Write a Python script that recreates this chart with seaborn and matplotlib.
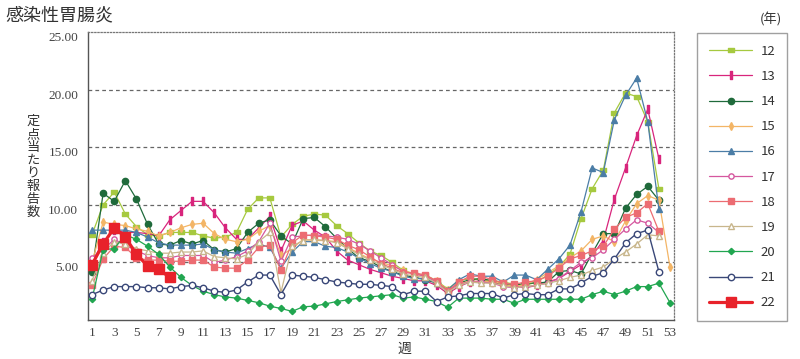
import seaborn as sns
import matplotlib.pyplot as plt
from matplotlib.path import Path

# weeks and yearly series (reports per sentinel site)
weeks = list(range(1, 54))
s12 = [7.4, 10.0, 11.1, 9.2, 8.1, 7.4, 7.3, 7.6, 7.6, 7.6, 7.3, 7.1, 7.2, 7.6, 9.6, 10.6, 10.6, 7.2, 8.3, 9.0,
       9.2, 9.1, 8.2, 7.5, 6.7, 6.0, 5.6, 5.0, 4.3, 4.0, 3.9, 3.4, 2.7, 3.4, 3.6, 3.5, 3.4, 3.3, 3.1, 3.0,
       3.3, 3.9, 4.6, 5.7, 8.8, 11.4, 13.0, 18.0, 19.7, 19.4, 17.2, 11.4]
s13 = [5.0, 6.8, 7.8, 7.6, 7.6, 7.5, 7.3, 8.7, 9.5, 10.3, 10.3, 9.3, 8.0, 7.0, 7.0, 8.0, 9.0, 6.0, 8.2, 8.6,
       7.8, 7.2, 6.0, 5.2, 4.8, 4.4, 4.1, 3.8, 3.6, 3.4, 3.4, 3.0, 2.3, 2.9, 3.3, 3.4, 3.3, 3.0, 2.9, 2.8,
       3.0, 3.3, 3.6, 4.2, 4.8, 5.6, 6.9, 10.5, 13.2, 16.0, 18.3, 14.0]
s14 = [4.2, 11.0, 10.3, 12.1, 10.5, 8.3, 6.6, 6.5, 6.9, 6.6, 6.9, 6.1, 5.9, 6.2, 7.6, 8.4, 8.7, 7.3, 6.6, 8.8,
       8.9, 8.1, 7.1, 6.2, 5.4, 5.1, 4.6, 4.2, 3.9, 3.7, 3.5, 3.2, 2.5, 3.2, 3.5, 3.6, 3.4, 3.1, 3.0, 3.2,
       3.2, 3.3, 4.2, 4.3, 4.0, 5.8, 7.5, 7.5, 9.7, 10.9, 11.6, 10.4]
s15 = [5.0, 8.5, 8.3, 8.2, 7.9, 7.7, 7.3, 7.6, 8.0, 8.3, 8.4, 7.5, 7.0, 6.8, 7.0, 7.7, 8.2, 5.6, 6.2, 7.0,
       6.9, 6.9, 6.8, 6.3, 5.8, 5.3, 5.0, 4.7, 4.3, 4.0, 3.8, 3.4, 2.6, 3.1, 3.4, 3.3, 3.4, 3.1, 2.9, 3.1,
       3.5, 4.1, 4.7, 5.4, 6.0, 7.0, 7.3, 6.8, 8.6, 10.1, 10.8, 10.4, 4.6]
s16 = [7.8, 7.8, 7.8, 7.8, 7.6, 7.2, 6.7, 6.5, 6.5, 6.5, 6.6, 6.1, 5.9, 5.8, 6.2, 6.6, 6.3, 4.5, 5.9, 6.8,
       6.8, 6.4, 6.3, 5.9, 5.4, 4.9, 4.5, 4.2, 3.8, 3.6, 3.6, 3.2, 2.6, 3.5, 4.0, 3.8, 3.8, 3.3, 3.9, 3.9,
       3.5, 4.4, 5.3, 6.5, 9.4, 13.2, 12.8, 17.4, 19.5, 21.0, 17.2, 9.6]
s17 = [5.4, 6.1, 7.0, 6.5, 6.0, 5.6, 5.4, 5.4, 5.6, 5.6, 5.6, 5.0, 5.2, 5.5, 6.0, 6.8, 8.4, 5.1, 7.2, 7.3,
       7.4, 7.3, 7.2, 7.0, 6.6, 6.0, 5.4, 4.8, 4.2, 4.0, 3.8, 3.3, 2.5, 3.1, 3.3, 3.3, 3.2, 2.9, 2.8, 2.9,
       3.0, 3.2, 3.6, 4.3, 5.0, 5.4, 6.1, 7.0, 7.9, 8.7, 8.4, 7.6]
s18 = [3.0, 5.3, 6.4, 6.3, 5.4, 5.2, 5.2, 5.1, 5.1, 5.2, 5.2, 4.6, 4.5, 4.5, 5.2, 6.3, 6.5, 4.3, 6.7, 7.4,
       7.3, 7.2, 7.0, 6.5, 6.1, 5.5, 4.9, 4.5, 4.1, 4.1, 3.9, 3.4, 2.5, 3.3, 3.8, 3.8, 3.5, 3.2, 3.1, 3.3,
       3.4, 3.8, 4.5, 5.3, 5.6, 6.0, 6.4, 7.9, 8.9, 9.3, 10.1, 7.7]
s19 = [3.4, 5.8, 6.8, 6.6, 6.2, 6.0, 5.8, 5.8, 5.9, 5.9, 6.0, 5.5, 5.4, 5.3, 5.7, 6.8, 7.6, 2.4, 6.4, 6.9,
       7.0, 6.9, 6.7, 6.2, 5.7, 5.2, 4.8, 4.4, 4.0, 3.8, 3.7, 3.2, 2.4, 3.0, 3.3, 3.2, 3.2, 3.0, 2.8, 2.9,
       3.0, 3.2, 3.4, 3.7, 3.9, 4.3, 4.6, 5.3, 5.9, 6.6, 7.4, 7.3]
s20 = [1.8, 6.1, 6.2, 7.4, 7.0, 6.4, 5.7, 4.6, 3.7, 3.0, 2.5, 2.2, 2.0, 1.9, 1.7, 1.5, 1.2, 1.0, 0.75, 1.15,
       1.2, 1.4, 1.6, 1.75, 1.9, 2.0, 2.1, 2.2, 1.9, 2.0, 1.8, 1.6, 1.1, 1.9, 1.9, 1.9, 1.8, 1.8, 1.45, 1.8,
       1.8, 1.8, 1.8, 1.8, 1.8, 2.2, 2.5, 2.2, 2.5, 2.9, 2.9, 3.2, 1.5]
s21 = [2.2, 2.6, 2.9, 2.9, 2.9, 2.8, 2.8, 2.7, 2.9, 3.0, 2.8, 2.5, 2.4, 2.6, 3.3, 3.9, 3.9, 2.2, 3.9, 3.8,
       3.7, 3.5, 3.3, 3.2, 3.1, 3.1, 3.0, 2.9, 2.2, 2.5, 2.5, 1.6, 2.0, 2.1, 2.3, 2.3, 2.3, 1.9, 2.2, 2.3,
       2.2, 2.2, 2.7, 2.7, 3.2, 3.8, 4.1, 5.3, 6.7, 7.5, 7.8, 4.2]
s22 = [4.8, 6.6, 8.0, 7.2, 5.7, 4.7, 4.4, 3.7]

years = ['12', '13', '14', '15', '16', '17', '18', '19', '20', '21', '22']
colors = ['#a6c93f', '#d8257c', '#1f6a3b', '#f3b566', '#4b7da6', '#d5579f',
          '#ec6c72', '#c8b68c', '#21a650', '#3a4878', '#e8222a']

# custom bar-like markers
hbar = Path([(-1, -0.45), (1, -0.45), (1, 0.45), (-1, 0.45), (-1, -0.45)],
            [Path.MOVETO, Path.LINETO, Path.LINETO, Path.LINETO, Path.CLOSEPOLY])
vbar = Path([(-0.35, -1), (0.35, -1), (0.35, 1), (-0.35, 1), (-0.35, -1)],
            [Path.MOVETO, Path.LINETO, Path.LINETO, Path.LINETO, Path.CLOSEPOLY])

series = [s12, s13, s14, s15, s16, s17, s18, s19, s20, s21, s22]
markers = [hbar, vbar, 'o', 'd', '^', 'o', 's', '^', 'D', 'o', 's']
msizes = [5, 5.5, 4.5, 4.2, 4.6, 3.8, 4.0, 4.2, 3.2, 4.6, 6.5]
open_mk = [False, False, False, False, False, True, False, True, False, True, False]
lwidths = [0.9, 0.9, 0.9, 0.9, 0.9, 0.9, 0.9, 0.9, 0.9, 1.0, 2.3]

sns.set_style('white')
plt.rcParams['font.family'] = ['Noto Sans CJK JP', 'DejaVu Sans']

fig = plt.figure(figsize=(8, 3.59), dpi=100)
ax = fig.add_axes([88 / 800, 1 - 320 / 359, (674 - 88) / 800, (320 - 32) / 359])

for i, (yr, vals) in enumerate(zip(years, series)):
    c = colors[i]
    sns.lineplot(x=weeks[:len(vals)], y=vals, ax=ax, color=c, lw=lwidths[i],
                 marker=markers[i], markersize=msizes[i],
                 markerfacecolor='white' if open_mk[i] else c,
                 markeredgecolor=c, markeredgewidth=1.0,
                 label=yr, zorder=2 + i)

handles, labels = ax.get_legend_handles_labels()
ax.get_legend().remove()

# grid and frame
for v in [5, 10, 15, 20]:
    ax.axhline(v, color='#666666', lw=0.9, ls=(0, (3, 2.5)), zorder=1)
ax.set_xlim(0.64, 53.36)
ax.set_ylim(0, 25)
for side in ['left', 'bottom']:
    ax.spines[side].set_color('#555555')
    ax.spines[side].set_linewidth(1.0)
for side in ['top', 'right']:
    ax.spines[side].set_color('#777777')
    ax.spines[side].set_linewidth(0.9)
    ax.spines[side].set_linestyle((0, (1, 1.5)))

ax.set_xticks(list(range(1, 54, 2)))
ax.set_xticks(weeks, minor=True)
ax.set_xticklabels([str(w) for w in range(1, 54, 2)])
ax.tick_params(axis='x', which='both', direction='in', length=5, width=0.8,
               color='#555555', pad=5)
ax.set_yticks([5, 10, 15, 20, 25])
ax.set_yticklabels(['%.2f' % v for v in [5, 10, 15, 20, 25]])
ax.tick_params(axis='y', length=0, pad=7)
for t in ax.get_xticklabels() + ax.get_yticklabels():
    t.set_fontfamily(['Liberation Serif'])
    t.set_fontsize(9.5)
    t.set_color('#444444')
for t in ax.get_yticklabels():
    t.set_verticalalignment('top')
ax.set_xlabel('')
ax.set_ylabel('')

# texts
fig.text(5 / 800, 1 - 15 / 359, '感染性胃腸炎', fontsize=13, color='#333333',
         va='center', ha='left')
fig.text(404 / 800, 1 - 349 / 359, '週', fontsize=10, color='#333333',
         va='center', ha='center')
fig.text(33 / 800, 1 - 167 / 359, '\n'.join('定点当たり報告数'), fontsize=9.5,
         color='#333333', va='center', ha='center', linespacing=1.0)
fig.text(771 / 800, 1 - 19 / 359, '(年)', fontsize=9.5, color='#333333',
         va='center', ha='center')

leg = fig.legend(handles, labels, loc='upper left',
                 bbox_to_anchor=(697 / 800, 1 - 33 / 359), bbox_transform=fig.transFigure,
                 frameon=True, fancybox=False, edgecolor='#888888', fontsize=9.5,
                 handlelength=3.3, handletextpad=0.6, labelspacing=0.92,
                 borderpad=0.9, borderaxespad=0)
leg.get_frame().set_linewidth(1.0)
for t in leg.get_texts():
    t.set_color('#333333')

fig.savefig('out.png', dpi=100)
